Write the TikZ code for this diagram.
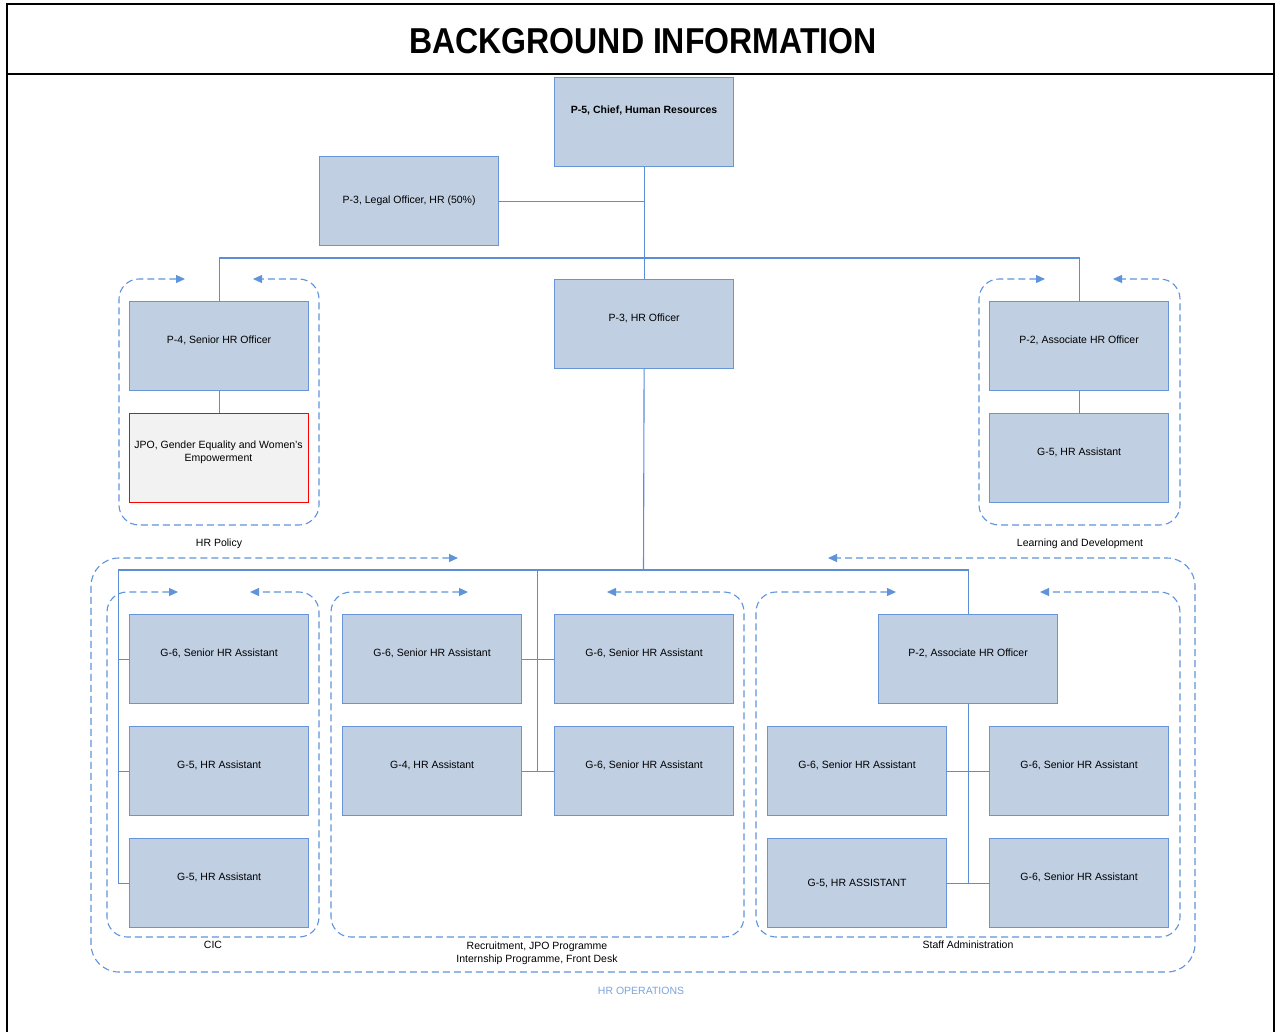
\documentclass[tikz,border=0pt]{standalone}
\usepackage{fontspec}
\setmainfont{Liberation Sans}
\usetikzlibrary{arrows.meta}
\definecolor{boxfill}{HTML}{C0CFE2}
\definecolor{boxline}{HTML}{6895D8}
\definecolor{linkcol}{HTML}{5B8ED6}
\definecolor{dashcol}{HTML}{5F93DA}
\definecolor{opsblue}{HTML}{7BA3DC}
\definecolor{jpofill}{HTML}{F2F2F2}
\begin{document}
\begin{tikzpicture}[x=1pt,y=-1pt,
  box/.style={draw=boxline, fill=boxfill, line width=1.2pt, minimum width=179pt, minimum height=89pt,
    inner sep=0pt, anchor=north west, font=\fontsize{10.5}{14}\selectfont, align=center},
  raised/.style={text height=8pt, text depth=13pt},
  raisedmore/.style={text height=8pt, text depth=26pt},
  link/.style={draw=linkcol, line width=1.1pt},
  grp/.style={draw=dashcol, line width=1.1pt, dash pattern=on 7pt off 4pt, rounded corners=20pt,
    {Triangle[length=9pt,width=8pt]}-{Triangle[length=9pt,width=8pt]}},
  lbl/.style={font=\fontsize{10.5}{13}\selectfont, inner sep=0pt, align=center}]
\useasboundingbox (0,0) rectangle (1281,1031);
% frame and title
\draw[line width=2pt] (7,4) rectangle (1274,1045);
\draw[line width=2pt] (7,74) -- (1274,74);
\node (title) at (643,41) {\scalebox{0.89}[1]{\fontsize{36}{40}\selectfont\bfseries BACKGROUND INFORMATION}};

% dashed groups
\draw[grp] (185,279) -- (119,279) -- (119,525) -- (319,525) -- (319,279) -- (253,279);
\draw[grp] (1045,279) -- (979,279) -- (979,525) -- (1180,525) -- (1180,279) -- (1113,279);
\draw[grp, rounded corners=28pt] (458,558) -- (91,558) -- (91,972) -- (1195,972) -- (1195,558) -- (828,558);
\draw[grp] (178,592) -- (107,592) -- (107,937) -- (319,937) -- (319,592) -- (250,592);
\draw[grp] (468,592) -- (331,592) -- (331,937) -- (744,937) -- (744,592) -- (607,592);
\draw[grp] (896,592) -- (756,592) -- (756,937) -- (1180,937) -- (1180,592) -- (1040,592);

% group labels
\node[lbl] (lpol) at (219,544) {HR Policy};
\node[lbl] (lld) at (1080,544) {Learning and Development};
\node[lbl] (lcic) at (213,945) {CIC};
\node[lbl, anchor=north] (lrec) at (537,941.5) {Recruitment, JPO Programme\\Internship Programme, Front Desk};
\node[lbl] (lsta) at (968,945) {Staff Administration};
\node[lbl, text=opsblue] (lops) at (641,991) {HR OPERATIONS};

% boxes
\node[box, raisedmore] (p5) at (554,77) {\bfseries P-5, Chief, Human Resources};
\node[box] (legal) at (319,156) {P-3, Legal Officer, HR (50\%)};
\node[box, raised] (hro) at (554,279) {P-3, HR Officer};
\node[box, raised] (p4) at (129,301) {P-4, Senior HR Officer};
\node[box, draw=red, fill=jpofill] (jpo) at (129,413) {};
\node[lbl] (jpot) at (218.5,452) {JPO, Gender Equality and Women’s\\Empowerment};
\node[box, raised] (p2a) at (989,301) {P-2, Associate HR Officer};
\node[box, raised] (g5ld) at (989,413) {G-5, HR Assistant};

\node[box, raised] (cic1) at (129,614) {G-6, Senior HR Assistant};
\node[box, raised] (cic2) at (129,726) {G-5, HR Assistant};
\node[box, raised] (cic3) at (129,838) {G-5, HR Assistant};

\node[box, raised] (rl1) at (342,614) {G-6, Senior HR Assistant};
\node[box, raised] (rl2) at (342,726) {G-4, HR Assistant};
\node[box, raised] (rr1) at (554,614) {G-6, Senior HR Assistant};
\node[box, raised] (rr2) at (554,726) {G-6, Senior HR Assistant};

\node[box, raised] (sp2) at (878,614) {P-2, Associate HR Officer};
\node[box, raised] (sl1) at (767,726) {G-6, Senior HR Assistant};
\node[box, raised] (sr1) at (989,726) {G-6, Senior HR Assistant};
\node[box] (sl2) at (767,838) {G-5, HR ASSISTANT};
\node[box, raised] (sr2) at (989,838) {G-6, Senior HR Assistant};

% connectors
\coordinate (j1) at (643.5,258);
\coordinate (j2) at (643.5,570);
\coordinate (jL) at (118.5,570);
\coordinate (jM) at (537.5,570);
\draw[link] (p5.south) -- (hro.north);
\draw[link] (legal.east) -- (legal.east -| p5.south);
\draw[link] (p4.north) |- (j1) -| (p2a.north);
\draw[link] (p4.south) -- (jpo.north);
\draw[link] (p2a.south) -- (g5ld.north);
\draw[link] (hro.south) -- (j2);
\draw[link] (cic3.west) -| (jL) -| (sp2.north);
\draw[link] (cic1.west) -- (cic1.west -| jL);
\draw[link] (cic2.west) -- (cic2.west -| jL);
\draw[link] (jM) -- (jM |- rl2.east);
\draw[link] (rl1.east) -- (rr1.west);
\draw[link] (rl2.east) -- (rr2.west);
\draw[link] (sp2.south) -- (sp2.south |- sl2.east);
\draw[link] (sl1.east) -- (sr1.west);
\draw[link] (sl2.east) -- (sr2.west);
\end{tikzpicture}
\end{document}
